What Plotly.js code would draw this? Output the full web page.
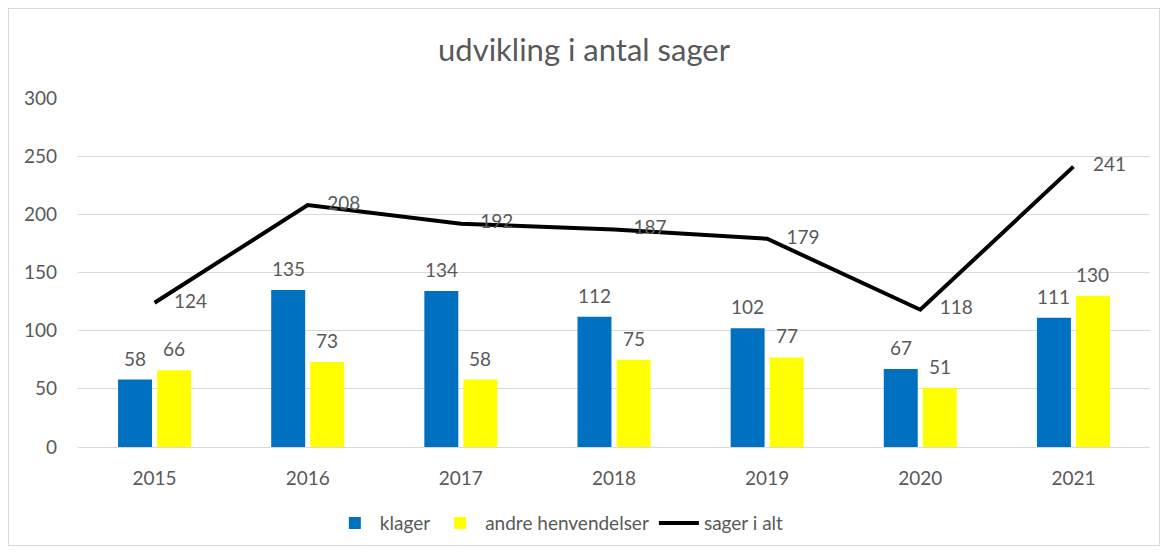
<!DOCTYPE html>
<html><head><meta charset="utf-8">
<script src="https://cdn.plot.ly/plotly-3.0.1.min.js"></script>
<style>
body{margin:0;background:#fff;}
#wrap{position:absolute;left:8px;top:8px;width:1150px;height:536px;border:1px solid #d9d9d9;}
#chart{width:1150px;height:536px;}
</style></head><body>
<div id="wrap"><div id="chart"></div></div>
<script>
const years = ['2015','2016','2017','2018','2019','2020','2021'];
const klager = [58,135,134,112,102,67,111];
const andre = [66,73,58,75,77,51,130];
const total = [124,208,192,187,179,118,241];
const yTicks = [0,50,100,150,200,250,300];

const grey = '#595959';
const fnt = 'Lato, "Liberation Sans", sans-serif';
const fs = 19;
const traces = [
 {type:'bar', name:'klager', x:years, y:klager, marker:{color:'#0070C0'}},
 {type:'bar', name:'andre henvendelser', x:years, y:andre, marker:{color:'#FFFF00'}},
 {type:'scatter', mode:'lines+text', name:'sager i alt', x:years, y:total,
  line:{color:'#000000',width:4},
  text:total.map(v=>'    '+v), textposition:'middle right', cliponaxis:false,
  textfont:{color:grey,size:fs,family:fnt}}
];
const ann = [];
years.forEach((yr,i)=>{
  ann.push({x:i, y:klager[i], xref:'x', yref:'y', text:String(klager[i]), showarrow:false,
            xshift:-19.5, yshift:8, yanchor:'bottom', font:{size:fs,color:grey,family:fnt}});
  ann.push({x:i, y:andre[i], xref:'x', yref:'y', text:String(andre[i]), showarrow:false,
            xshift:19.5, yshift:8, yanchor:'bottom', font:{size:fs,color:grey,family:fnt}});
});
const layout = {
 width:1150, height:536,
 margin:{l:69,r:9,t:89,b:98, autoexpand:false},
 paper_bgcolor:'#fff', plot_bgcolor:'#fff',
 font:{family:fnt,color:grey,size:fs},
 title:{text:'udvikling i antal sager', font:{size:31,color:grey,family:fnt},
        x:0.5, xanchor:'center', y:1-41/536, yanchor:'middle', yref:'container'},
 barmode:'group', bargap:0.49, bargroupgap:0.13,
 xaxis:{type:'category', categoryarray:years, range:[-0.5, years.length-0.5], showgrid:false, zeroline:false,
        showline:true, linecolor:'#d9d9d9', linewidth:1,
        ticks:'', tickfont:{size:fs,color:grey}, ticklabelstandoff:14},
 yaxis:{range:[0,300], tickvals:yTicks, showgrid:true, gridcolor:'#d9d9d9', gridwidth:1,
        zeroline:false, showline:false, ticks:'', tickfont:{size:fs,color:grey}, ticklabelstandoff:20},
 legend:{orientation:'h', x:0.449, xanchor:'center', y:-0.218, yanchor:'middle',
         font:{size:fs,color:grey}, traceorder:'normal', itemwidth:40},
 annotations:ann,
 showlegend:true
};
Plotly.newPlot('chart', traces, layout, {displayModeBar:false, staticPlot:true});
</script>
</body></html>
